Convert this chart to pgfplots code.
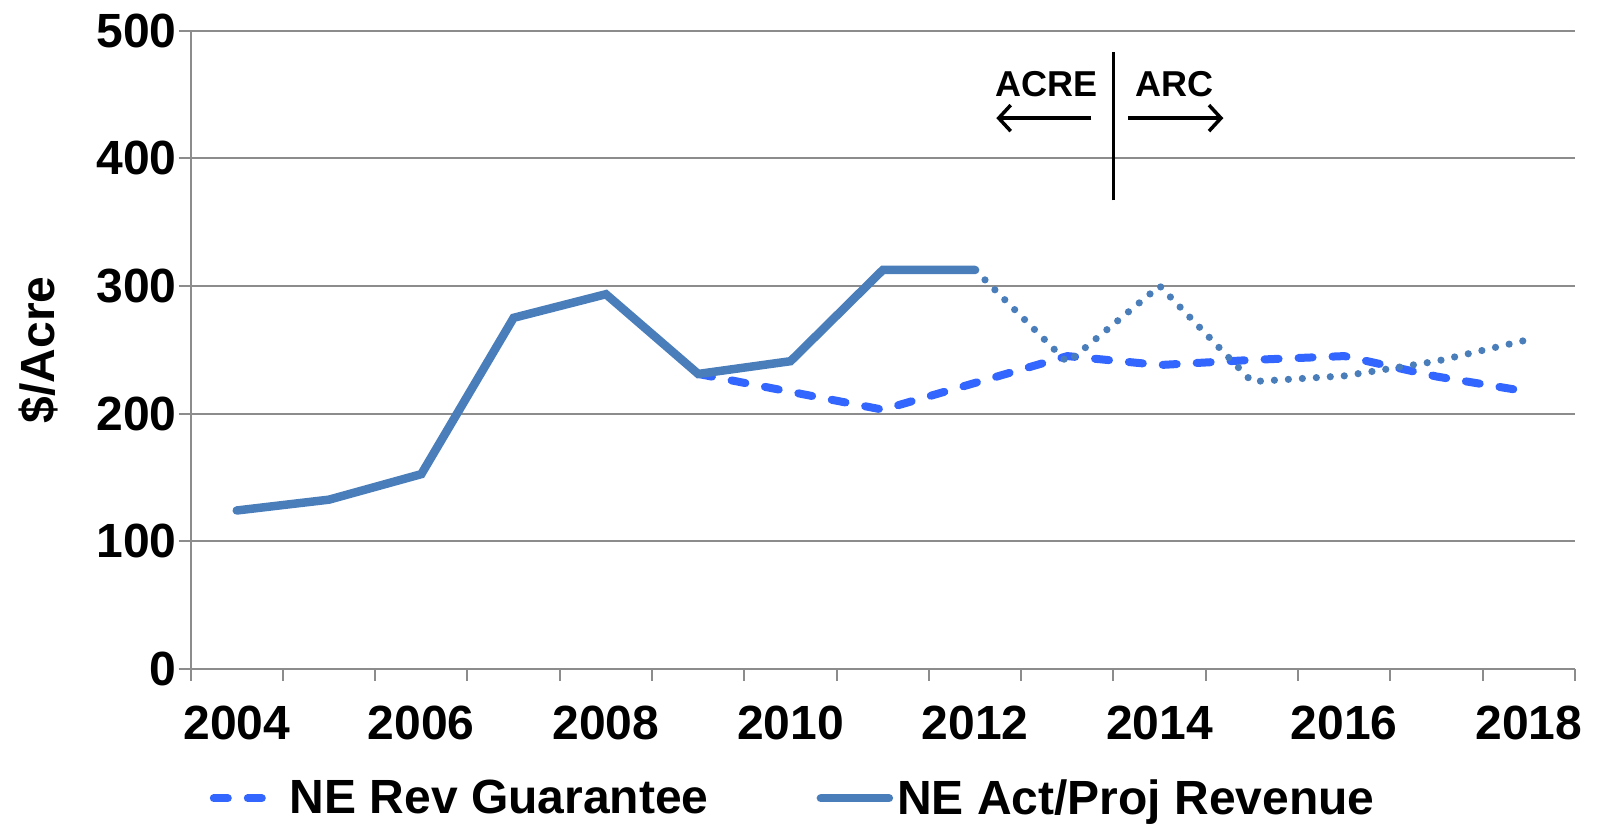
\documentclass[border=0pt]{standalone}
\usepackage{fontspec}
\setmainfont{Liberation Sans}
\usepackage{pgfplots}
\pgfplotsset{compat=1.18}
\usetikzlibrary{arrows.meta}
\definecolor{actblue}{RGB}{74,126,187}
\definecolor{guarblue}{RGB}{51,102,255}
\definecolor{gridgray}{RGB}{140,140,140}
\newcommand{\bigbold}{\bfseries\fontsize{24}{28}\selectfont}

\begin{document}
\begin{tikzpicture}
\begin{axis}[
  at={(95.3pt,79.15pt)}, anchor=south west,
  scale only axis, width=692.2pt, height=319pt,
  xmin=2003.5, xmax=2018.5, ymin=0, ymax=500,
  axis lines=left,
  axis line style={gridgray, line width=1pt, -},
  tick style={gridgray, line width=1pt},
  tick align=outside,
  major tick length=6pt,
  ytick={0,100,...,500},
  ymajorgrids,
  grid style={gridgray, line width=1pt},
  xtick={2003.5,2004.5,...,2018.5},
  xticklabels={2004,,2006,,2008,,2010,,2012,,2014,,2016,,2018,,},
  xticklabel style={font=\bigbold, xshift=23.07pt, yshift=-9pt},
  yticklabel style={font=\bigbold, xshift=2.5pt},
  /pgf/number format/assume math mode=true,
  ylabel={\$/Acre},
  ylabel style={font=\bigbold, at={(axis description cs:-0.1102,0.5)}, anchor=center},
  legend style={at={(axis description cs:0.4360,-0.2030)}, anchor=center,
    draw=none, fill=none, font=\bigbold, legend columns=2,
    /tikz/every even column/.append style={column sep=52pt}},
  legend image code/.code={\draw[#1] (0pt,0pt) -- (34pt,0pt);},
]
\addplot[guarblue, line width=4pt, dash pattern=on 7pt off 10pt, line cap=round] coordinates {
  (2009, 231) (2010, 217) (2011, 203) (2012, 224) (2013, 245)
  (2014, 238) (2015, 242) (2016, 245) (2017, 229) (2018, 217)
};
\addlegendentry{NE Rev Guarantee}

\addplot[actblue, line width=4.25pt, line cap=round] coordinates {
  (2004, 124) (2005, 132.5) (2006, 152.5) (2007, 275) (2008, 293.5)
  (2009, 231) (2010, 241) (2011, 312.5) (2012, 312.5)
};
\addlegendentry{NE Act/Proj Revenue}

% projected revenue, dotted
\addplot[actblue, line width=3.6pt, dash pattern=on 0pt off 7pt, line cap=round, forget plot] coordinates {
  (2012, 312.5) (2013, 240) (2014, 300) (2015, 225) (2016, 229.5)
  (2017, 241) (2018, 258)
};

% ACRE / ARC divider
\draw[black, line width=1.75pt] (axis cs:2013.5,367) -- (axis cs:2013.5,483);
\node[font=\bfseries\fontsize{18}{20}\selectfont] at (axis cs:2012.77,458.5) {ACRE};
\node[font=\bfseries\fontsize{18}{20}\selectfont] at (axis cs:2014.16,458.5) {ARC};
\draw[-{Straight Barb[length=6pt,width=13pt]}, line width=1.75pt] (axis cs:2013.26,431.5) -- (axis cs:2012.23,431.5);
\draw[-{Straight Barb[length=6pt,width=13pt]}, line width=1.75pt] (axis cs:2013.66,431.5) -- (axis cs:2014.69,431.5);
\end{axis}
\pgfresetboundingbox
\path[use as bounding box] (0,0) rectangle (799pt,413.5pt);
\end{tikzpicture}
\end{document}
